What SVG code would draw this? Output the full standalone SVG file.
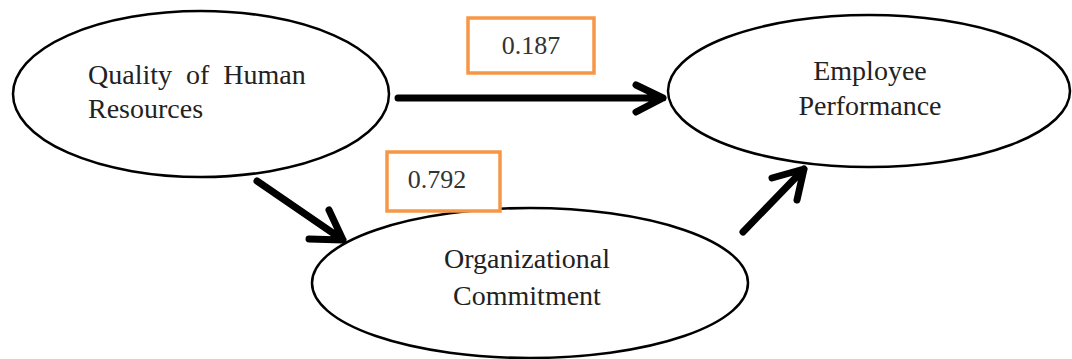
<svg xmlns="http://www.w3.org/2000/svg" width="1072" height="359" viewBox="0 0 1072 359">
<style>
.node{fill:#fff;stroke:#000;stroke-width:2.5}
.lbl{font-family:"Liberation Serif",serif;font-size:28px;fill:#222}
.num{font-family:"Liberation Serif",serif;font-size:26px;fill:#333;text-anchor:middle}
.box{fill:#fff;stroke:#F79646;stroke-width:3.5}
.conn{fill:none;stroke:#000;stroke-width:7;stroke-linecap:round;stroke-linejoin:round}
</style>
<rect width="1072" height="359" fill="#fff"/>
<g id="quality">
<ellipse class="node" cx="201" cy="94" rx="188" ry="83"/>
<text class="lbl" x="88" y="84" word-spacing="7">Quality of Human</text>
<text class="lbl" x="88" y="118">Resources</text>
</g>
<g id="performance">
<ellipse class="node" cx="869" cy="91" rx="201" ry="76"/>
<text class="lbl" x="870" y="80" text-anchor="middle">Employee</text>
<text class="lbl" x="870" y="115" text-anchor="middle">Performance</text>
</g>
<g id="commitment">
<ellipse class="node" cx="530" cy="283" rx="218" ry="75"/>
<text class="lbl" x="527" y="268" text-anchor="middle">Organizational</text>
<text class="lbl" x="527" y="305" text-anchor="middle">Commitment</text>
</g>
<g id="connectors">
<path class="conn" d="M398 98 H663 M636 85 L663 98 L636 112"/>
<path class="conn" d="M257 181 L343 240 M309 239 L343 240 L329 210"/>
<path class="conn" d="M743 232 L804 169 M772 178 L804 169 L797 200"/>
</g>
<g id="label-0187">
<rect class="box" x="468" y="18" width="126" height="55"/>
<text class="num" x="531" y="54">0.187</text>
</g>
<g id="label-0792">
<rect class="box" x="387" y="152" width="113" height="59"/>
<text class="num" x="437" y="188">0.792</text>
</g>
</svg>
